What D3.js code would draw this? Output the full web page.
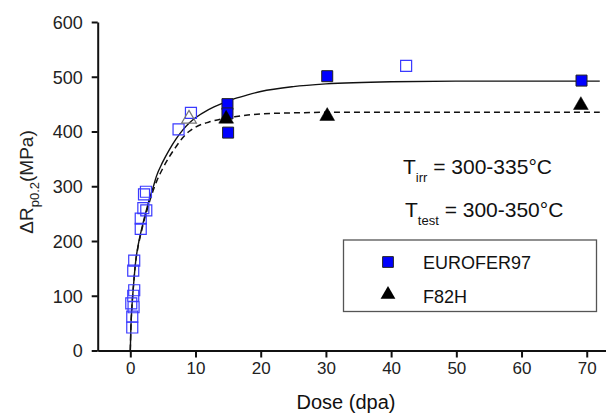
<!DOCTYPE html>
<html><head><meta charset="utf-8">
<script src="https://cdn.jsdelivr.net/npm/d3@7"></script>
<style>
body{margin:0;background:#fff}
svg{display:block;font-family:Arial,"Liberation Sans",Helvetica,sans-serif}
</style>
</head><body>
<svg id="c" width="606" height="414"></svg>
<script>
// ---- data ----
const xTicks = [0, 10, 20, 30, 40, 50, 60, 70];
const yTicks = [0, 100, 200, 300, 400, 500, 600];

const euroferDose = [14.9, 14.9, 15.0, 30.2, 69.2];
const euroferMPa  = [450, 433, 398, 501, 493];

const f82hDose = [14.7, 30.2, 69.1];
const f82hMPa  = [423, 428, 448];

const openSqDose = [0.3, 0.3, 0.5, 0.15, 0.45, 0.6, 0.45, 0.6, 1.6, 1.6, 2.0, 2.45, 2.1, 2.4, 7.4, 9.3, 42.3];
const openSqMPa  = [42, 62, 79, 86, 100, 110, 146, 164, 222, 241, 260, 256, 285, 290, 404, 434, 520];

const openTriDose = [9.0];
const openTriMPa  = [423];

const fitEuroDose = [0, 0.1, 0.25, 0.5, 0.8, 1.2, 1.6, 2, 2.5, 3, 3.5, 4, 5, 6, 7, 8, 9, 10, 12, 14, 16, 18, 20, 25, 30, 40, 50, 60, 72];
const fitEuroMPa  = [0, 45, 80, 120, 160, 192, 215, 235, 258, 280, 298, 318, 345, 367, 386, 402, 415, 425, 440, 451, 460, 467, 473, 482, 487, 491, 492, 492, 492];

const fitF82hDose = [0, 0.1, 0.25, 0.5, 0.8, 1.2, 1.6, 2, 2.5, 3, 3.5, 4, 5, 6, 7, 8, 9, 10, 12, 14, 16, 18, 20, 25, 30, 40, 72];
const fitF82hMPa  = [0, 45, 80, 120, 160, 190, 212, 232, 254, 274, 292, 308, 333, 354, 372, 388, 400, 408, 417, 423, 427, 430, 432, 434, 435, 435, 435];

const legendLabels = ["EUROFER97", "F82H"];

// ---- chart ----
const svg = d3.select("#c");
const x = d3.scaleLinear().domain([-5, 73]).range([97.7, 606.3]);
const y = d3.scaleLinear().domain([0, 600]).range([350.5, 22]);

const zip = (a, b) => a.map((v, i) => [v, b[i]]);

// axes
const gx = svg.append("g").attr("transform", `translate(0,${y(0)})`)
  .call(d3.axisBottom(x).tickValues(xTicks).tickSize(7).tickSizeOuter(0).tickPadding(4));
const gy = svg.append("g").attr("transform", `translate(${x(-5)},0)`)
  .call(d3.axisLeft(y).tickValues(yTicks).tickSize(6).tickSizeOuter(0).tickPadding(9));
[gx, gy].forEach(g => {
  g.select(".domain").attr("stroke", "#111").attr("stroke-width", 2);
  g.selectAll(".tick line").attr("stroke", "#111").attr("stroke-width", 2);
  g.selectAll(".tick text").attr("fill", "#222").style("font-family", "Arial, 'Liberation Sans', sans-serif");
});
gx.selectAll(".tick text").style("font-size", "17px");
gy.selectAll(".tick text").style("font-size", "18px").attr("dy", "0.35em");

// axis titles
svg.append("text").attr("x", 346).attr("y", 409).attr("text-anchor", "middle")
  .attr("fill", "#111").style("font-size", "20px").text("Dose (dpa)");

const yt = svg.append("text").attr("transform", "translate(33,182) rotate(-90)")
  .attr("text-anchor", "middle").attr("fill", "#222").style("font-size", "19px");
yt.append("tspan").text("\u0394R");
yt.append("tspan").attr("dy", 6).style("font-size", "13px").text("p0.2");
yt.append("tspan").attr("dy", -6).text("(MPa)");

// fit curves
const line = d3.line().x(d => x(d[0])).y(d => y(d[1])).curve(d3.curveMonotoneX);
svg.append("path").datum(zip(fitEuroDose, fitEuroMPa)).attr("d", line)
  .attr("fill", "none").attr("stroke", "#111").attr("stroke-width", 1.4);
svg.append("path").datum(zip(fitF82hDose, fitF82hMPa)).attr("d", line)
  .attr("fill", "none").attr("stroke", "#111").attr("stroke-width", 1.5).attr("stroke-dasharray", "6,4");

// markers
const sq = d3.symbol().type(d3.symbolSquare).size(121);
const sqOpen = d3.symbol().type(d3.symbolSquare).size(121);
const tri = d3.symbol().type(d3.symbolTriangle).size(95);

svg.append("g").selectAll("path").data(zip(openSqDose, openSqMPa)).join("path")
  .attr("d", sqOpen).attr("transform", d => `translate(${x(d[0])},${y(d[1])})`)
  .attr("fill", "none").attr("stroke", "#3a3aff").attr("stroke-width", 1.2);

svg.append("g").selectAll("path").data(zip(openTriDose, openTriMPa)).join("path")
  .attr("d", tri).attr("transform", d => `translate(${x(d[0])},${y(d[1])})`)
  .attr("fill", "none").attr("stroke", "#777").attr("stroke-width", 1.2);

svg.append("g").selectAll("path").data(zip(euroferDose, euroferMPa)).join("path")
  .attr("d", sq).attr("transform", d => `translate(${x(d[0])},${y(d[1])})`)
  .attr("fill", "#0000ff").attr("stroke", "#222").attr("stroke-width", 1);

svg.append("g").selectAll("path").data(zip(f82hDose, f82hMPa)).join("path")
  .attr("d", tri).attr("transform", d => `translate(${x(d[0])},${y(d[1])})`)
  .attr("fill", "#000").attr("stroke", "#000").attr("stroke-width", 0.5);

// annotations
function subText(xp, yp, main, sub, rest) {
  const t = svg.append("text").attr("x", xp).attr("y", yp).attr("fill", "#111").style("font-size", "21px");
  t.append("tspan").text(main);
  t.append("tspan").attr("dy", 8).style("font-size", "13px").text(sub);
  t.append("tspan").attr("dy", -8).text(rest);
}
subText(403, 173.5, "T", "irr", " = 300-335\u00B0C");
subText(405, 217, "T", "test", " = 300-350\u00B0C");

// legend
const lg = svg.append("g");
lg.append("rect").attr("x", 343.5).attr("y", 240).attr("width", 253).attr("height", 71.5)
  .attr("fill", "#fff").attr("stroke", "#555").attr("stroke-width", 1.3);
lg.append("path").attr("d", d3.symbol().type(d3.symbolSquare).size(115)())
  .attr("transform", "translate(388,262)").attr("fill", "#0000ff").attr("stroke", "#222").attr("stroke-width", 1);
lg.append("path").attr("d", d3.symbol().type(d3.symbolTriangle).size(95)())
  .attr("transform", "translate(388,294.5)").attr("fill", "#000");
lg.selectAll("text.lt").data(legendLabels).join("text").attr("class", "lt")
  .attr("x", 423).attr("y", (d, i) => 269 + i * 33.5).attr("fill", "#111")
  .style("font-size", "18px").text(d => d);
</script>
</body></html>
